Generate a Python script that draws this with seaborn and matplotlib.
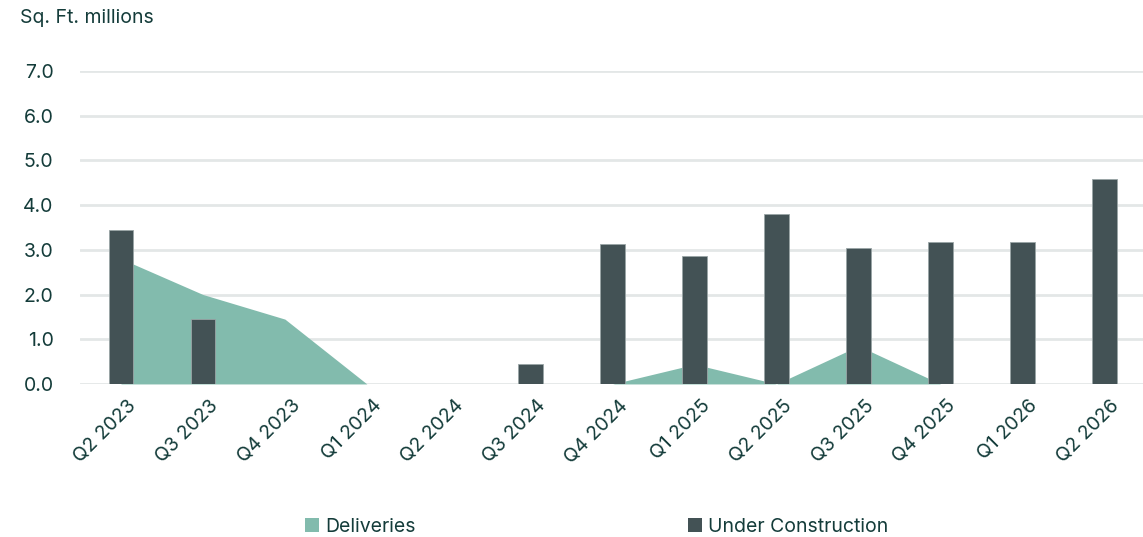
import matplotlib
matplotlib.use("Agg")
import matplotlib.pyplot as plt
from matplotlib.patches import Patch
import matplotlib.transforms as mtransforms
import seaborn as sns
import pandas as pd
import numpy as np

quarters = ["Q2 2023", "Q3 2023", "Q4 2023", "Q1 2024", "Q2 2024", "Q3 2024", "Q4 2024",
            "Q1 2025", "Q2 2025", "Q3 2025", "Q4 2025", "Q1 2026", "Q2 2026"]
under_construction = [3.45, 1.45, 0.0, 0.0, 0.0, 0.45, 3.12, 2.85, 3.80, 3.04, 3.17, 3.17, 4.59]
deliveries = [2.80, 2.00, 1.45, 0.0, 0.0, 0.0, 0.0, 0.44, 0.0, 0.85, 0.0, 0.0, 0.0]
yticks = [0, 1, 2, 3, 4, 5, 6, 7]

GREEN = "#82BBAD"
DARK = "#435255"
TEXT = "#143C3A"
GRID = "#E3E7E7"

sns.set_theme(style="white")
plt.rcParams["font.family"] = ["Inter", "DejaVu Sans"]

df = pd.DataFrame({"quarter": quarters, "uc": under_construction, "del": deliveries})

fig = plt.figure(figsize=(11.43, 5.37), dpi=100)
ax = fig.add_axes([0.07, 0.285, 0.93, 0.583])

x = np.arange(len(quarters))
ax.fill_between(x, df["del"], 0, color=GREEN, linewidth=0, zorder=2)
sns.barplot(data=df, x="quarter", y="uc", color=DARK, width=0.3, ax=ax,
            saturation=1, edgecolor="#9AA5A6", linewidth=0.6, zorder=3)

ax.set_xlim(-0.5, 12.47)
ax.set_ylim(0, 7)
ax.set_yticks(yticks)
ax.set_yticklabels([f"{v:.1f}" for v in yticks])
ax.yaxis.grid(True, color=GRID, linewidth=2)
ax.set_axisbelow(True)
for s in ax.spines.values():
    s.set_visible(False)
ax.set_xlabel("")
ax.set_ylabel("")
ax.tick_params(axis="both", length=0, colors=TEXT, labelsize=14)
ax.tick_params(axis="y", pad=19)
ax.tick_params(axis="x", pad=9)
offset = mtransforms.ScaledTranslation(6 / 100, 0, fig.dpi_scale_trans)
for lbl in ax.get_xticklabels():
    lbl.set_rotation(45)
    lbl.set_horizontalalignment("right")
    lbl.set_rotation_mode("anchor")
    lbl.set_transform(lbl.get_transform() + offset)
for lbl in ax.get_yticklabels():
    lbl.set_horizontalalignment("right")

fig.text(20 / 1143, 1 - 18 / 537, "Sq. Ft. millions", color=TEXT, fontsize=14, va="center", ha="left")

handles = [Patch(facecolor=GREEN, edgecolor="none", label="Deliveries"),
           Patch(facecolor=DARK, edgecolor="none", label="Under Construction")]
fig.legend(handles=handles, loc="center", bbox_to_anchor=(0.522, 1 - 527 / 537), ncol=2,
           frameon=False, fontsize=14, handlelength=0.75, handleheight=0.75, handletextpad=0.3,
           columnspacing=14.0, labelcolor=TEXT)

fig.savefig("out.png", dpi=100)
